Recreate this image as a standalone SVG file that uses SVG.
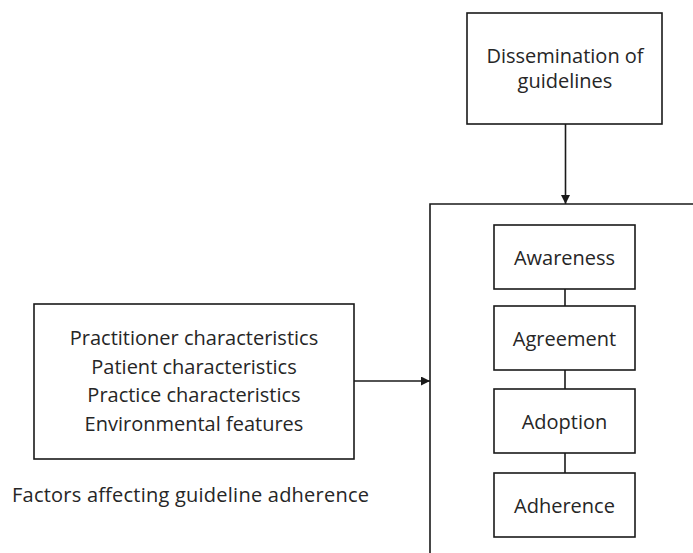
<svg xmlns="http://www.w3.org/2000/svg" width="693" height="553" viewBox="0 0 693 553">
<defs>
<style>
.box{fill:#ffffff;stroke:#1a1a1a;stroke-width:1.6}
.line{fill:none;stroke:#1a1a1a;stroke-width:1.6}
.t{font-family:"Open Sans","Noto Sans",sans-serif;font-size:20px;fill:#262626;text-anchor:middle}
.tl{font-family:"Open Sans","Noto Sans",sans-serif;font-size:20px;fill:#262626}
</style>
<marker id="arr" markerUnits="userSpaceOnUse" markerWidth="9" markerHeight="9" viewBox="0 0 9 9" refX="9" refY="4.5" orient="auto">
<path d="M0,0 L9,4.5 L0,9 z" fill="#1a1a1a"/>
</marker>
</defs>
<rect width="693" height="553" fill="#ffffff"/>
<g id="dissemination">
<rect class="box" x="467" y="13" width="195" height="111"/>
<text class="t" x="565" y="63">Dissemination of</text>
<text class="t" x="565" y="88">guidelines</text>
</g>
<g id="process">
<path class="line" d="M430,560 V204 H700"/>
</g>
<g id="awareness">
<rect class="box" x="494" y="225" width="141" height="64"/>
<text class="t" x="564.5" y="265">Awareness</text>
</g>
<g id="agreement">
<rect class="box" x="494" y="306" width="141" height="64"/>
<text class="t" x="564.5" y="346">Agreement</text>
</g>
<g id="adoption">
<rect class="box" x="494" y="389" width="141" height="64"/>
<text class="t" x="564.5" y="429">Adoption</text>
</g>
<g id="adherence">
<rect class="box" x="494" y="473" width="141" height="64"/>
<text class="t" x="564.5" y="513">Adherence</text>
</g>
<g id="factors">
<rect class="box" x="34" y="304" width="320" height="155"/>
<text class="t" x="194" y="345">Practitioner characteristics</text>
<text class="t" x="194" y="373.5">Patient characteristics</text>
<text class="t" x="194" y="402">Practice characteristics</text>
<text class="t" x="194" y="430.5">Environmental features</text>
</g>
<g id="factors-label">
<text class="tl" x="12" y="502" textLength="357">Factors affecting guideline adherence</text>
</g>
<g id="connectors">
<line class="line" x1="565.5" y1="124" x2="565.5" y2="204" marker-end="url(#arr)"/>
<line class="line" x1="354" y1="381" x2="430" y2="381" marker-end="url(#arr)"/>
<line class="line" x1="565" y1="289" x2="565" y2="306"/>
<line class="line" x1="565" y1="370" x2="565" y2="389"/>
<line class="line" x1="565" y1="453" x2="565" y2="473"/>
</g>
</svg>
